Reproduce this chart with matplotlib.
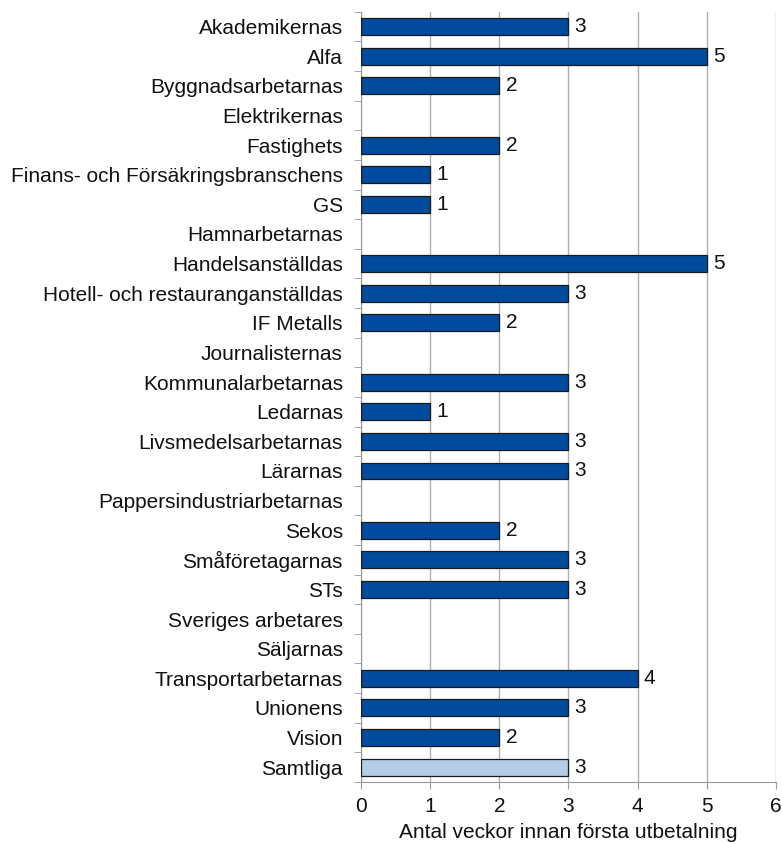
import numpy as np
import matplotlib
matplotlib.use("Agg")
from matplotlib import pyplot as plt

plt.rcParams['font.family'] = ['Liberation Sans', 'DejaVu Sans']

categories = ["Akademikernas", "Alfa", "Byggnadsarbetarnas", "Elektrikernas", "Fastighets",
              "Finans- och Försäkringsbranschens", "GS", "Hamnarbetarnas", "Handelsanställdas",
              "Hotell- och restauranganställdas", "IF Metalls", "Journalisternas",
              "Kommunalarbetarnas", "Ledarnas", "Livsmedelsarbetarnas", "Lärarnas",
              "Pappersindustriarbetarnas", "Sekos", "Småföretagarnas", "STs",
              "Sveriges arbetares", "Säljarnas", "Transportarbetarnas", "Unionens",
              "Vision", "Samtliga"]
weeks = [3, 5, 2, None, 2, 1, 1, None, 5, 3, 2, None, 3, 1, 3, 3, None, 2, 3, 3,
         None, None, 4, 3, 2, 3]

fs = 15
fig = plt.figure(figsize=(7.82, 8.44), dpi=100)
ax = fig.add_axes([0.4616, 0.0735, 0.5307, 0.9125])

n = len(categories)
y = np.arange(n)[::-1]
for yi, name, v in zip(y, categories, weeks):
    if v is None:
        continue
    color = '#b3cde8' if name == "Samtliga" else '#004b9b'
    ax.barh(yi, v, height=0.57, color=color, edgecolor='#1a1a1a', linewidth=0.9, zorder=3)
    ax.text(v + 0.09, yi, str(v), va='center', ha='left', fontsize=fs, color='#111111', zorder=4)

ax.set_xlim(0, 6)
ax.set_ylim(-0.5, n - 0.5)
ax.set_yticks(y)
ax.set_yticklabels(categories, fontsize=fs, color='#111111')
ax.set_yticks(np.arange(n + 1) - 0.5, minor=True)
ax.tick_params(axis='y', which='major', length=0, pad=13)
ax.tick_params(axis='y', which='minor', length=5, color='#999999')
ax.set_xticks(range(7))
ax.tick_params(axis='x', labelsize=fs, length=5, color='#999999', pad=6, labelcolor='#111111')
ax.set_xlabel("Antal veckor innan första utbetalning", fontsize=fs, labelpad=5, color='#111111')
ax.grid(axis='x', color='#b0b0b0', linewidth=1, zorder=0)
for s in ['top', 'right']:
    ax.spines[s].set_visible(False)
for s in ['left', 'bottom']:
    ax.spines[s].set_color('#999999')

fig.savefig("out.png", dpi=100)
